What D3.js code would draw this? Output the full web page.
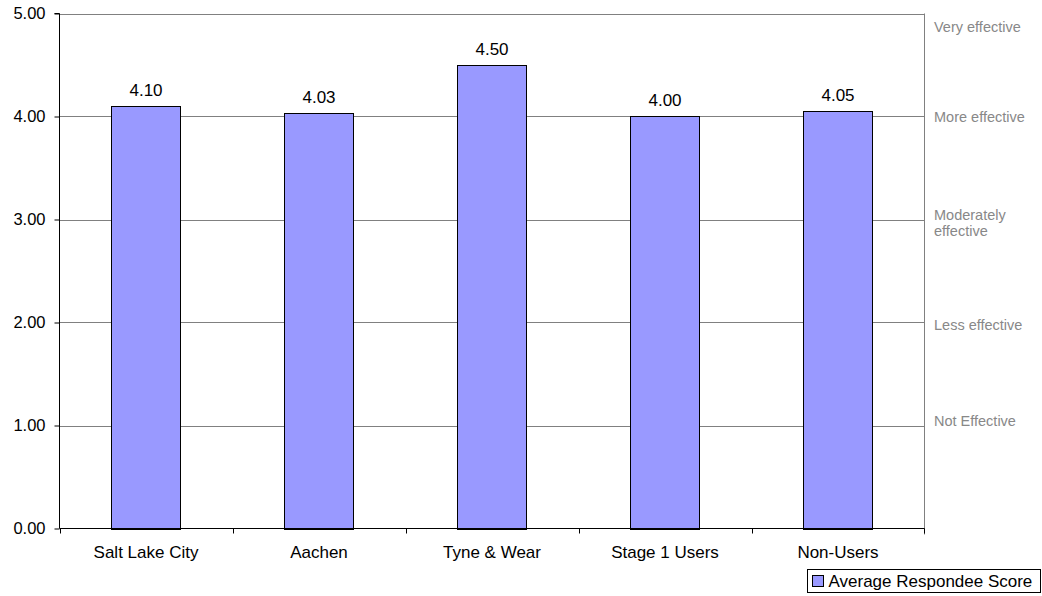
<!DOCTYPE html>
<html><head><meta charset="utf-8">
<script src="https://cdn.jsdelivr.net/npm/d3@7"></script>
<style>body{margin:0;background:#fff}svg{display:block;font-family:"Liberation Sans",Arial,sans-serif}</style>
</head><body><svg id="c" width="1042" height="596"></svg>
<script>
const categories = ["Salt Lake City","Aachen","Tyne & Wear","Stage 1 Users","Non-Users"];
const scores = [4.10, 4.03, 4.50, 4.00, 4.05];
const yTicks = [0,1,2,3,4,5];
const ratingLabels = [["Very effective"],["More effective"],["Moderately","effective"],["Less effective"],["Not Effective"]];
const ratingValues = [4.87, 4.0, 2.97, 1.98, 1.04];
const seriesName = "Average Respondee Score";

const FONT = "Liberation Sans, Arial, sans-serif";
const svg = d3.select("#c");
const L = 59.5, R = 924.5, T = 13.5, B = 528.5;
const x = d3.scaleBand().domain(categories).range([L, R]).paddingInner(0).paddingOuter(0);
const y = d3.scaleLinear().domain([0,5]).range([B, T]);

// gridlines
svg.append("g").selectAll("line").data(yTicks.filter(d=>d>0)).join("line")
  .attr("x1", L).attr("x2", R).attr("y1", d=>Math.round(y(d))+0.5).attr("y2", d=>Math.round(y(d))+0.5)
  .attr("stroke", "#808080").attr("stroke-width", 1);
// right border
svg.append("line").attr("x1", R).attr("x2", R).attr("y1", T).attr("y2", B+6).attr("stroke","#808080");

// bars
const bw = x.bandwidth()*0.4;
svg.append("g").selectAll("rect").data(categories).join("rect")
  .attr("x", d=>Math.round(x(d)+x.bandwidth()/2-bw/2)+0.5)
  .attr("y", (d,i)=>Math.round(y(scores[i]))+0.5)
  .attr("width", Math.round(bw))
  .attr("height", (d,i)=>Math.round(B)-Math.round(y(scores[i])))
  .attr("fill", "#9999FF").attr("stroke", "#000").attr("stroke-width", 1);

// value labels
svg.append("g").selectAll("text").data(categories).join("text")
  .attr("x", d=>x(d)+x.bandwidth()/2)
  .attr("y", (d,i)=>y(scores[i])-10.5)
  .attr("text-anchor","middle").attr("font-size", 17).attr("fill","#000")
  .text((d,i)=>scores[i].toFixed(2));

// y axis
const ya = d3.axisLeft(y).tickValues(yTicks).tickFormat(d3.format(".2f")).tickSize(5).tickPadding(9);
const gy = svg.append("g").attr("transform", `translate(${L},0)`).call(ya);
gy.selectAll("text").attr("font-size", 16.5).attr("fill","#000").attr("font-family",FONT);
gy.selectAll("line").attr("stroke","#000");
gy.select(".domain").attr("stroke","#000").attr("d", `M-5,${T}H0V${B}`);

// x axis
const xa = d3.axisBottom(x).tickSize(0).tickPadding(20);
const gx = svg.append("g").attr("transform", `translate(0,${B})`).call(xa);
gx.selectAll("text").attr("font-size", 17).attr("fill","#000").attr("font-family",FONT)
  .attr("y", 29.5).attr("dy", 0);
gx.select(".domain").attr("stroke","#000").attr("d", `M${L},0H${R}`);
gx.append("g").selectAll("line").data(d3.range(categories.length+1)).join("line")
  .attr("x1", i=> i<categories.length ? Math.round(x(categories[i]))+0.5 : R)
  .attr("x2", i=> i<categories.length ? Math.round(x(categories[i]))+0.5 : R)
  .attr("y1", 0).attr("y2", 5).attr("stroke", "#000");

// right rating labels
const rl = svg.append("g");
ratingLabels.forEach((lines,i)=>{
  const cy = y(ratingValues[i]);
  const n = lines.length;
  lines.forEach((s,j)=>{
    rl.append("text").attr("x", 934).attr("y", cy + 5 + (j-(n-1)/2)*16)
      .attr("font-size", 14.5).attr("fill","#888888").text(s);
  });
});

// legend
const lg = svg.append("g").attr("transform","translate(807.5,569.5)");
lg.append("rect").attr("width", 233).attr("height", 23).attr("fill","#fff").attr("stroke","#000");
lg.append("rect").attr("x", 5).attr("y", 6).attr("width", 11).attr("height", 11).attr("fill","#9999FF").attr("stroke","#000");
lg.append("text").attr("x", 21).attr("y", 17.5).attr("font-size", 17).attr("fill","#000").text(seriesName);
</script></body></html>
